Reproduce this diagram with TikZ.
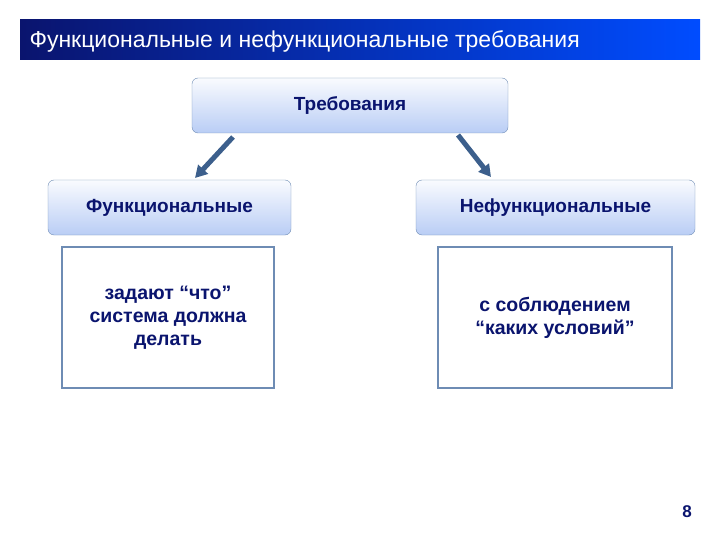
\documentclass[tikz,border=0pt]{standalone}
\usepackage{fontspec}
\setmainfont{Liberation Sans}
\usetikzlibrary{arrows.meta}
\definecolor{navy}{RGB}{10,20,110}
\definecolor{bord}{RGB}{110,140,180}
\definecolor{arr}{RGB}{60,95,140}
\definecolor{hfill}{RGB}{185,205,245}
\tikzset{
 head/.style={draw=bord,rounded corners=6pt,top color=white!92!hfill,bottom color=hfill,font=\bfseries\fontsize{19}{22}\selectfont,text=navy},
 body/.style={draw=bord,line width=1.5pt,fill=white,align=center,font=\bfseries\fontsize{19.5}{23}\selectfont,text=navy},
 arrw/.style={-{Triangle[length=12pt,width=13pt]},line width=5pt,draw=arr}
}
\begin{document}
\begin{tikzpicture}[x=1pt,y=-1pt]
\useasboundingbox (0,0) rectangle (720,540);
\shade[left color=navy,right color=blue!70!cyan] (20,20) rectangle (700,60);
\node[anchor=west,text=white,font=\fontsize{23}{26}\selectfont] (title) at (26,41) {Функциональные и нефункциональные требования};
\node[head,minimum width=316pt,minimum height=55pt] (req) at (350,105.5) {Требования};
\node[head,minimum width=243pt,minimum height=55pt] (f) at (169.5,207.5) {Функциональные};
\node[head,minimum width=279pt,minimum height=55pt] (nf) at (555.5,207.5) {Нефункциональные};
\node[body,minimum width=212pt,minimum height=141pt] (fb) at (168,317.5) {задают “что”\\система должна\\делать};
\node[body,minimum width=234pt,minimum height=141pt] (nfb) at (555,317.5) {с соблюдением\\“каких условий”};
\coordinate (a1) at (233,137); \coordinate (a2) at (195,178);
\coordinate (b1) at (458,135); \coordinate (b2) at (491,177);
\draw[arrw] (a1) -- (a2);
\draw[arrw] (b1) -- (b2);
\node[font=\bfseries\fontsize{17}{20}\selectfont,text=navy] (pg) at (687,512) {8};
\end{tikzpicture}
\end{document}
